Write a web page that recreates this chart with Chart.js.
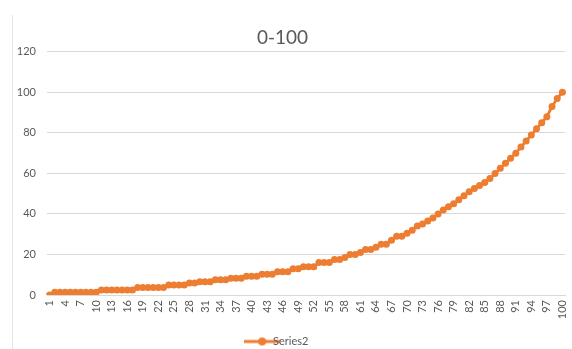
<!DOCTYPE html>
<html>
<head>
<meta charset="utf-8">
<script src="https://cdn.jsdelivr.net/npm/chart.js@4"></script>
<style>
  html, body { margin: 0; padding: 0; background: #fff; }
  #wrap { position: relative; width: 572px; height: 349px; }
  #edge { position: absolute; left: 12px; top: 15px; bottom: 0; border-left: 1px solid #e4e4e4; }
</style>
</head>
<body>
<div id="wrap">
  <div id="edge"></div>
  <canvas id="chart" width="572" height="349"></canvas>
</div>
<script>
// x categories 1..100
var categories = [];
for (var i = 1; i <= 100; i++) categories.push(String(i));

// Series2 values
var series2 = [
  0, 1.3, 1.3, 1.3, 1.3, 1.3, 1.3, 1.3, 1.3, 1.3,
  2.5, 2.5, 2.5, 2.5, 2.5, 2.5, 2.5, 3.7, 3.7, 3.7,
  3.7, 3.7, 3.7, 4.9, 4.9, 4.9, 4.9, 5.9, 5.9, 6.5,
  6.5, 6.5, 7.5, 7.5, 7.5, 8.3, 8.3, 8.3, 9.2, 9.2,
  9.2, 10.2, 10.2, 10.2, 11.5, 11.5, 11.5, 13, 13, 14,
  14, 14, 16, 16, 16, 17.5, 17.5, 18.5, 20, 20,
  21, 22.5, 22.5, 23.5, 25, 25, 27, 29, 29, 30.5,
  32, 34, 35, 36.5, 38, 40, 42, 43.5, 45, 47,
  49, 51, 52.5, 54, 55.5, 57.5, 60, 62.5, 65, 67.5,
  70, 73, 76, 79, 82, 85, 88, 93, 97, 100
];

var yTicks = { min: 0, max: 120, step: 20 };

var orange = '#ed7d31';
var grey = '#595959';

// legend swatch: line with a dot, like Excel
function swatch() {
  var c = document.createElement('canvas');
  c.width = 36; c.height = 10;
  var g = c.getContext('2d');
  g.strokeStyle = orange; g.lineWidth = 3;
  g.beginPath(); g.moveTo(0, 5); g.lineTo(36, 5); g.stroke();
  g.fillStyle = orange;
  g.beginPath(); g.arc(18, 5, 4, 0, Math.PI * 2); g.fill();
  return c;
}

Chart.defaults.font.family = 'Lato, "Liberation Sans", sans-serif';
Chart.defaults.color = grey;

new Chart(document.getElementById('chart'), {
  type: 'line',
  data: {
    labels: categories,
    datasets: [{
      label: 'Series2',
      data: series2,
      borderColor: orange,
      backgroundColor: orange,
      borderWidth: 2.75,
      pointRadius: 3.5,
      pointBorderWidth: 0,
      pointBackgroundColor: orange,
      tension: 0
    }]
  },
  options: {
    responsive: false,
    animation: false,
    layout: { padding: { left: 0, right: 7, top: 0, bottom: -8 } },
    plugins: {
      title: {
        display: true,
        text: '0-100',
        color: grey,
        font: { size: 19, weight: 'normal' },
        padding: { top: 26, bottom: 3 }
      },
      legend: {
        position: 'bottom',
        labels: {
          usePointStyle: true,
          color: grey,
          font: { size: 11 },
          padding: 4,
          generateLabels: function (chart) {
            return [{
              text: 'Series2',
              pointStyle: swatch(),
              fontColor: grey,
              strokeStyle: orange,
              fillStyle: orange,
              lineWidth: 0,
              datasetIndex: 0
            }];
          }
        }
      },
      tooltip: { enabled: false }
    },
    scales: {
      x: {
        offset: true,
        grid: { display: false, drawTicks: false },
        border: { display: true, color: '#d9d9d9' },
        afterFit: function (s) { s.height = 37; s.paddingLeft = 0; s.paddingRight = 0; },
        ticks: {
          autoSkip: false,
          minRotation: 90,
          maxRotation: 90,
          padding: 5,
          font: { size: 11 },
          color: grey,
          callback: function (v, idx) { return idx % 3 === 0 ? categories[idx] : ''; }
        }
      },
      y: {
        min: yTicks.min,
        max: yTicks.max,
        grid: { color: '#d9d9d9', drawTicks: false },
        border: { display: false },
        afterFit: function (s) { s.width = 47; },
        ticks: {
          stepSize: yTicks.step,
          padding: 11,
          font: { size: 11 },
          color: grey
        }
      }
    }
  }
});
</script>
</body>
</html>
